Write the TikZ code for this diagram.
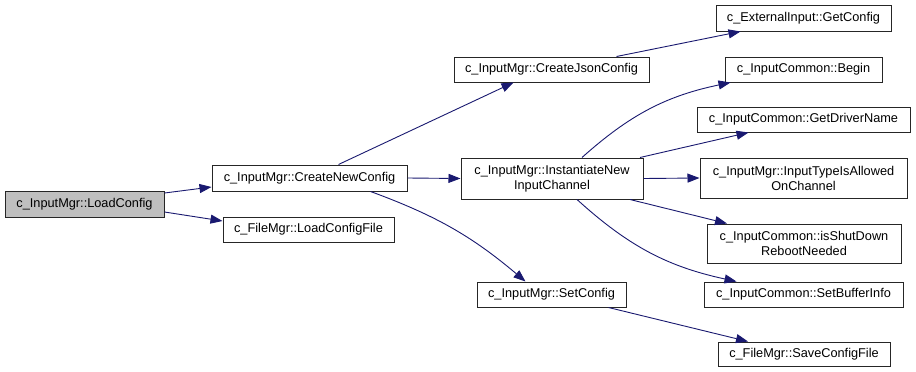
\documentclass[tikz,border=0pt]{standalone}
\usepackage{fontspec}
\setmainfont{Liberation Sans}
\usetikzlibrary{arrows.meta,calc}
\definecolor{edgeblue}{RGB}{25,25,112}
\definecolor{rootgray}{RGB}{191,191,191}
\tikzset{
  fn/.style={draw=black!85, line width=1pt, fill=white, inner sep=0pt,
    align=center, font=\fontsize{12.75}{15}\selectfont},
  root/.style={fn, fill=rootgray},
  call/.style={draw=edgeblue, line width=0.9pt,
    -{Triangle[length=12pt,width=9pt,fill=edgeblue]}}
}
\begin{document}
\begin{tikzpicture}[x=1pt,y=-1pt]
\useasboundingbox[fill=white] (0,0) rectangle (916,372);

% left and centre columns
\node[root, minimum width=159pt, minimum height=26pt] (lc)   at (84.5,204)  {c\_InputMgr::LoadConfig};
\node[fn, minimum width=195pt, minimum height=26pt]   (cnc)  at (309.5,178) {c\_InputMgr::CreateNewConfig};
\node[fn, minimum width=171pt, minimum height=25pt]   (lcf)  at (308.5,229.5) {c\_FileMgr::LoadConfigFile};
\node[fn, minimum width=195pt, minimum height=25pt]   (cjc)  at (551.5,69.5) {c\_InputMgr::CreateJsonConfig};
\node[fn, minimum width=182pt, minimum height=41pt]   (inic) at (552,178.5) {c\_InputMgr::InstantiateNew\\InputChannel};
\node[fn, minimum width=149pt, minimum height=25pt]   (setc) at (551.5,294.5) {c\_InputMgr::SetConfig};

% right column
\node[fn, minimum width=175pt, minimum height=26pt]   (egc)  at (803.5,18)   {c\_ExternalInput::GetConfig};
\node[fn, minimum width=157pt, minimum height=25pt]   (beg)  at (803.5,69.5) {c\_InputCommon::Begin};
\node[fn, minimum width=213pt, minimum height=25pt]   (gdn)  at (803.5,119.5) {c\_InputCommon::GetDriverName};
\node[fn, minimum width=207pt, minimum height=40pt]   (ita)  at (803.5,178)  {c\_InputMgr::InputTypeIsAllowed\\OnChannel};
\node[fn, minimum width=194pt, minimum height=39pt]   (isd)  at (804,243.5)  {c\_InputCommon::isShutDown\\RebootNeeded};
\node[fn, minimum width=199pt, minimum height=25pt]   (sbi)  at (803.5,294.5) {c\_InputCommon::SetBufferInfo};
\node[fn, minimum width=172pt, minimum height=24pt]   (scf)  at (804,354)    {c\_FileMgr::SaveConfigFile};

% calls
\draw[call] ($(lc.east)+(0,-11)$) -- ($(cnc.west)+(0,9)$);
\draw[call] ($(lc.east)+(0,8)$) -- ($(lcf.west)+(0,-8.5)$);
\draw[call] ($(cnc.north)+(29,0)$) -- ($(cjc.south)+(-38,0)$);
\draw[call] (cnc.east) -- (inic.west);
\draw[call] ($(cnc.south)+(61,0)$) to[bend left=10] ($(setc.north)+(-26,0)$);
\draw[call] ($(cjc.north)+(65,0)$) -- ($(egc.south)+(-63,0)$);
\draw[call] ($(inic.north)+(30,0)$) to[bend left=15] ($(beg.south)+(-73,0)$);
\draw[call] ($(inic.north)+(88,0)$) -- ($(gdn.south)+(-55,0)$);
\draw[call] (inic.east) -- (ita.west);
\draw[call] ($(inic.south)+(78,0)$) -- ($(isd.north)+(-77,0)$);
\draw[call] ($(inic.south)+(25,0)$) to[bend right=15] ($(sbi.north)+(-67,0)$);
\draw[call] ($(setc.south)+(57,0)$) -- ($(scf.north)+(-56,0)$);
\end{tikzpicture}
\end{document}
